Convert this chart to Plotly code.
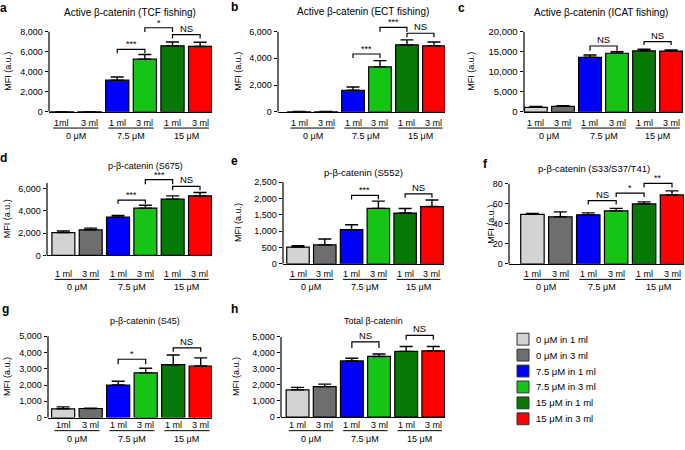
import plotly.graph_objects as go

W, H = 685, 450
FONT = "Liberation Sans, Arial, Helvetica, sans-serif"

# ---------------- data ----------------
conditions = ["0 μM in 1 ml", "0 μM in 3 ml", "7.5 μM in 1 ml",
              "7.5 μM in 3 ml", "15 μM in 1 ml", "15 μM in 3 ml"]
bar_colors = ["#d3d3d3", "#6e6e6e", "#0000fe", "#16c416", "#067806", "#fe0000"]
volume_labels = ["1 ml", "3 ml", "1 ml", "3 ml", "1 ml", "3 ml"]
volume_labels_compact = ["1ml", "3 ml", "1 ml", "3 ml", "1 ml", "3 ml"]
dose_labels = ["0 μM", "7.5 μM", "15 μM"]

panel_letters = ["a", "b", "c", "d", "e", "f", "g", "h"]
panel_titles = ["Active β-catenin (TCF fishing)", "Active β-catenin (ECT fishing)",
                "Active β-catenin (ICAT fishing)", "p-β-catenin (S675)",
                "p-β-catenin (S552)", "p-β-catenin (S33/S37/T41)",
                "p-β-catenin (S45)", "Total β-catenin"]
y_title = "MFI (a.u.)"

a_values = [15, 15, 3150, 5250, 6580, 6520]
a_errors = [0, 0, 320, 470, 380, 420]
a_ticks = [0, 2000, 4000, 6000, 8000]
a_brackets = [(2, 3, 6230, 5840, "***"), (3, 4, 8390, 7970, "*"), (4, 5, 7700, 7310, "NS")]

b_values = [15, 20, 1610, 3360, 5010, 4940]
b_errors = [0, 0, 240, 470, 370, 280]
b_ticks = [0, 2000, 4000, 6000]
b_brackets = [(2, 3, 4325, 4030, "***"), (3, 4, 6325, 6000, "***"), (4, 5, 5880, 5585, "NS")]

c_values = [1100, 1350, 13600, 14600, 15200, 15150]
c_errors = [250, 130, 580, 400, 400, 250]
c_ticks = [0, 5000, 10000, 15000, 20000]
c_brackets = [(2, 3, 16420, 15250, "NS"), (4, 5, 17500, 16670, "NS")]

d_values = [2050, 2300, 3450, 4250, 5050, 5350]
d_errors = [150, 150, 150, 250, 300, 300]
d_ticks = [0, 2000, 4000, 6000]
d_brackets = [(2, 3, 4970, 4640, "***"), (3, 4, 6800, 6400, "***"), (4, 5, 6200, 5850, "NS")]

e_values = [510, 580, 1045, 1700, 1555, 1755]
e_errors = [40, 180, 150, 220, 140, 200]
e_ticks = [0, 500, 1000, 1500, 2000, 2500]
e_brackets = [(2, 3, 2095, 1974, "***"), (4, 5, 2146, 2024, "NS")]

f_values = [49.5, 47, 49, 53, 60, 69]
f_errors = [0.8, 5, 2, 2.5, 2, 4]
f_ticks = [0, 20, 40, 60, 80]
f_brackets = [(2, 3, 63.3, 59.5, "NS"), (3, 4, 70.8, 66.8, "*"), (4, 5, 80.5, 76.5, "**")]

g_values = [540, 560, 2000, 2750, 3250, 3170]
g_errors = [120, 20, 230, 280, 600, 500]
g_ticks = [0, 1000, 2000, 3000, 4000, 5000]
g_brackets = [(2, 3, 3584, 3280, "*"), (4, 5, 4290, 4046, "NS")]

h_values = [1700, 1900, 3500, 3780, 4100, 4130]
h_errors = [150, 150, 170, 150, 300, 270]
h_ticks = [0, 1000, 2000, 3000, 4000, 5000]
h_brackets = [(2, 3, 4690, 4310, "NS"), (4, 5, 5100, 4830, "NS")]

panel_data = [
    (a_values, a_errors, a_ticks, a_brackets, volume_labels_compact),
    (b_values, b_errors, b_ticks, b_brackets, volume_labels),
    (c_values, c_errors, c_ticks, c_brackets, volume_labels),
    (d_values, d_errors, d_ticks, d_brackets, volume_labels),
    (e_values, e_errors, e_ticks, e_brackets, volume_labels),
    (f_values, f_errors, f_ticks, f_brackets, volume_labels),
    (g_values, g_errors, g_ticks, g_brackets, volume_labels_compact),
    (h_values, h_errors, h_ticks, h_brackets, volume_labels),
]

# ---------------- layout geometry (pixels) ----------------
geom = [
    dict(xl=49, xr=212, yb=113, yt=32, top=8000, rng=(-0.47, 5.43), rows=(124, 129.5, 138),
         title=(130, 12.5), letter=(4, 8), ytx=8, ts=10, tk=9),
    dict(xl=278, xr=445, yb=113, yt=32, top=6000, rng=(-0.78, 5.41), rows=(124, 129.5, 138),
         title=(363, 12), letter=(234, 7), ytx=238, ts=10, tk=9),
    dict(xl=524, xr=683, yb=113, yt=32, top=20000, rng=(-0.44, 5.44), rows=(124, 129.5, 138),
         title=(601, 13), letter=(461, 8), ytx=471, ts=10, tk=9.5),
    dict(xl=47, xr=212, yb=258.3, yt=185.1, top=6500, rng=(-0.6, 5.44), rows=(277, 282.5, 290.5),
         title=(145, 167.5), letter=(4, 160), ytx=7, ts=9, tk=9),
    dict(xl=283, xr=444, yb=266.7, yt=184.3, top=2500, rng=(-0.56, 5.45), rows=(277, 282.5, 290.5),
         title=(363, 174), letter=(234, 163), ytx=238, ts=9.5, tk=9),
    dict(xl=509, xr=684, yb=266.7, yt=186, top=80, rng=(-0.84, 5.43), rows=(277, 282.5, 290.5),
         title=(594, 170.5), letter=(485, 166), ytx=491, ts=9.5, tk=9),
    dict(xl=48, xr=212, yb=422.3, yt=340, top=5000, rng=(-0.55, 5.41), rows=(429.5, 435.5, 443.5),
         title=(145, 325), letter=(5, 312), ytx=7, ts=9, tk=9),
    dict(xl=281, xr=445, yb=421.7, yt=340.7, top=5000, rng=(-0.61, 5.43), rows=(429.5, 435.5, 443.5),
         title=(373, 325), letter=(234, 312), ytx=236, ts=9, tk=9),
]


def fx(px):
    return px / W


def fy(py):
    return 1 - py / H


fig = go.Figure()
shapes = []
annotations = []
layout_axes = {}
positions = list(range(len(conditions)))

for k, ((vals, errs, ticks, brackets, vlabels), g) in enumerate(zip(panel_data, geom)):
    n = k + 1
    xid = "x" if n == 1 else f"x{n}"
    yid = "y" if n == 1 else f"y{n}"
    ext = g["top"] * 1.25
    px_per_unit = (g["yb"] - g["yt"]) / g["top"]
    dom_top_px = g["yb"] - ext * px_per_unit

    fig.add_trace(go.Bar(
        x=positions, y=vals, xaxis=xid, yaxis=yid, width=0.84,
        marker=dict(color=bar_colors, line=dict(color="black", width=1.2)),
        error_y=dict(type="data", symmetric=False, array=errs, arrayminus=[0] * len(errs),
                     color="black", thickness=1.4, width=6.5),
        showlegend=False, hoverinfo="skip",
    ))

    for (i, j, ytop, yleg, label) in brackets:
        fig.add_trace(go.Scatter(
            x=[i, i, j, j], y=[yleg, ytop, ytop, yleg], xaxis=xid, yaxis=yid,
            mode="lines", line=dict(color="black", width=1.2),
            showlegend=False, hoverinfo="skip",
        ))
        is_star = "*" in label
        annotations.append(dict(
            x=(i + j) / 2, y=ytop, xref=xid, yref=yid, text=label, showarrow=False,
            yanchor="bottom", yshift=-2 if is_star else -1,
            font=dict(size=9 if is_star else 9.5, color="black"),
        ))

    layout_axes["xaxis" if n == 1 else f"xaxis{n}"] = dict(
        domain=[fx(g["xl"]), fx(g["xr"])], range=list(g["rng"]), anchor=yid,
        showline=True, linecolor="black", linewidth=1.2, ticks="", showticklabels=False,
        showgrid=False, zeroline=False, fixedrange=True,
    )
    layout_axes["yaxis" if n == 1 else f"yaxis{n}"] = dict(
        domain=[fy(g["yb"]), fy(dom_top_px)], range=[0, ext], anchor=xid,
        showline=False, ticks="outside", ticklen=3.5, tickwidth=1.1, tickcolor="black",
        tickvals=ticks, tickformat=",", tickfont=dict(size=g["tk"], color="black"),
        showgrid=False, zeroline=False, fixedrange=True,
    )
    # y axis line from 0 to the top tick
    shapes.append(dict(type="line", xref=f"{xid} domain", yref=yid, x0=0, x1=0,
                       y0=0, y1=g["top"], line=dict(color="black", width=1.2)))

    # volume labels, dose underlines and dose labels
    r_ml, r_line, r_dose = g["rows"]
    for i, lab in enumerate(vlabels):
        annotations.append(dict(x=positions[i], y=fy(r_ml), xref=xid, yref="paper", text=lab,
                                showarrow=False, yanchor="middle",
                                font=dict(size=9, color="black")))
    for gi, dose in enumerate(dose_labels):
        a0, a1 = positions[2 * gi], positions[2 * gi + 1]
        shapes.append(dict(type="line", xref=xid, yref="paper", x0=a0 - 0.32, x1=a1 + 0.32,
                           y0=fy(r_line), y1=fy(r_line), line=dict(color="black", width=1)))
        annotations.append(dict(x=(a0 + a1) / 2, y=fy(r_dose), xref=xid, yref="paper", text=dose,
                                showarrow=False, yanchor="middle",
                                font=dict(size=9, color="black")))

    # title, panel letter, y title
    annotations.append(dict(x=fx(g["title"][0]), y=fy(g["title"][1]), xref="paper", yref="paper",
                            text=panel_titles[k], showarrow=False, xanchor="center",
                            yanchor="middle", font=dict(size=g["ts"], color="black")))
    annotations.append(dict(x=fx(g["letter"][0]), y=fy(g["letter"][1]), xref="paper", yref="paper",
                            text=f"<b>{panel_letters[k]}</b>", showarrow=False, xanchor="center",
                            yanchor="middle", font=dict(size=12, color="black")))
    annotations.append(dict(x=fx(g["ytx"]), y=fy((g["yb"] + g["yt"]) / 2), xref="paper",
                            yref="paper", text=y_title, showarrow=False, textangle=-90,
                            xanchor="center", yanchor="middle", font=dict(size=9, color="black")))

# ---------------- legend (drawn manually) ----------------
leg_x0, leg_y0, leg_dy, box = 517, 343, 16.1, 12
for i, (lab, col) in enumerate(zip(conditions, bar_colors)):
    cy = leg_y0 + i * leg_dy
    shapes.append(dict(type="rect", xref="paper", yref="paper",
                       x0=fx(leg_x0), x1=fx(leg_x0 + box), y0=fy(cy + box / 2), y1=fy(cy - box / 2),
                       fillcolor=col, line=dict(color="#333333", width=1)))
    annotations.append(dict(x=fx(leg_x0 + box + 5), y=fy(cy), xref="paper", yref="paper",
                            text=lab, showarrow=False, xanchor="left", yanchor="middle",
                            font=dict(size=9.5, color="black")))

fig.update_layout(
    width=W, height=H, margin=dict(l=0, r=0, t=0, b=0),
    paper_bgcolor="white", plot_bgcolor="white",
    font=dict(family=FONT, color="black"),
    showlegend=False, shapes=shapes, annotations=annotations,
    **layout_axes,
)

fig.write_html("out.html", config={"displayModeBar": False},
               post_script="document.body.style.margin='0';document.body.style.overflow='hidden';")
